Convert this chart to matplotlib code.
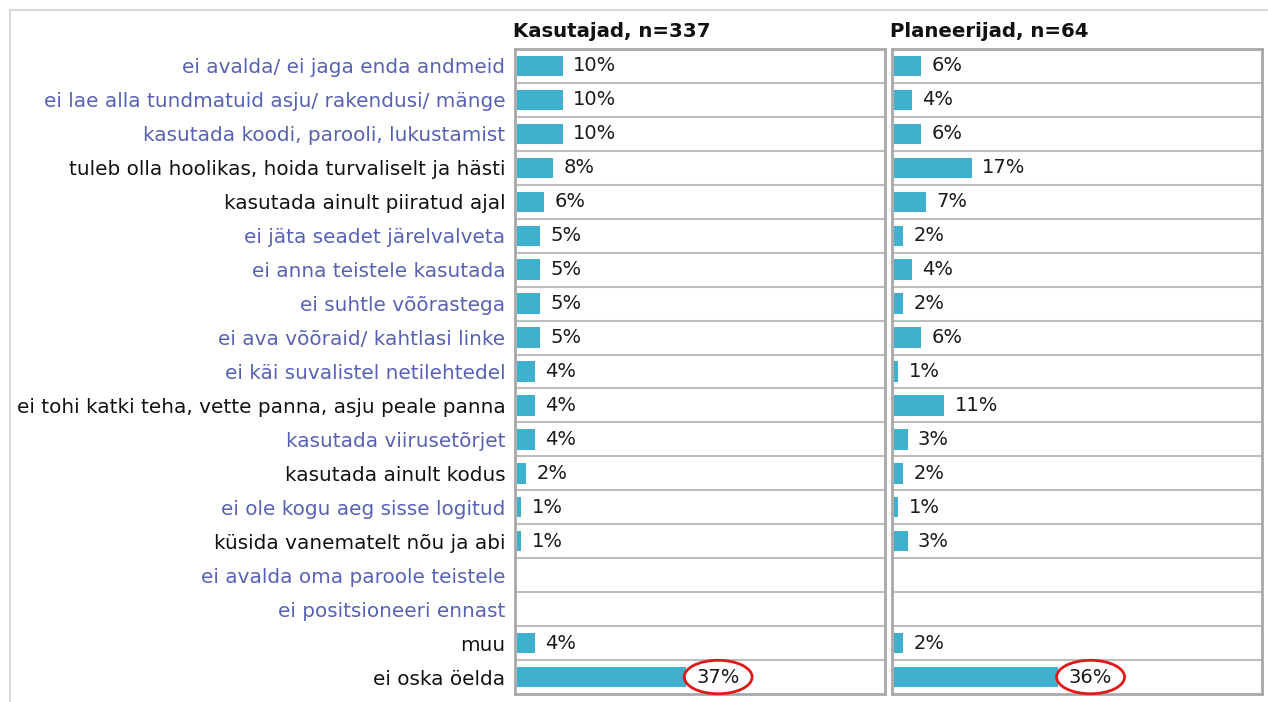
import matplotlib
matplotlib.use("Agg")
import matplotlib.pyplot as plt
from matplotlib.lines import Line2D

categories = [
    "ei avalda/ ei jaga enda andmeid",
    "ei lae alla tundmatuid asju/ rakendusi/ mänge",
    "kasutada koodi, parooli, lukustamist",
    "tuleb olla hoolikas, hoida turvaliselt ja hästi",
    "kasutada ainult piiratud ajal",
    "ei jäta seadet järelvalveta",
    "ei anna teistele kasutada",
    "ei suhtle võõrastega",
    "ei ava võõraid/ kahtlasi linke",
    "ei käi suvalistel netilehtedel",
    "ei tohi katki teha, vette panna, asju peale panna",
    "kasutada viirusetõrjet",
    "kasutada ainult kodus",
    "ei ole kogu aeg sisse logitud",
    "küsida vanematelt nõu ja abi",
    "ei avalda oma paroole teistele",
    "ei positsioneeri ennast",
    "muu",
    "ei oska öelda",
]
# True = blue label, False = black label
blue_label = [True, True, True, False, False, True, True, True, True, True,
              False, True, False, True, False, True, True, False, False]

kasutajad = [10, 10, 10, 8, 6, 5, 5, 5, 5, 4, 4, 4, 2, 1, 1, None, None, 4, 37]
planeerijad = [6, 4, 6, 17, 7, 2, 4, 2, 6, 1, 11, 3, 2, 1, 3, None, None, 2, 36]
titles = ["Kasutajad, n=337", "Planeerijad, n=64"]
highlight = "ei oska öelda"

W, H = 1268, 702
fig = plt.figure(figsize=(W / 100, H / 100), dpi=100)
fig.patch.set_facecolor("white")

# outer frame (only top and left edges visible)
fig.add_artist(Line2D([10 / W, 10 / W], [0, 1 - 10 / H], color="#d9d9d9", lw=1.5))
fig.add_artist(Line2D([10 / W, 1], [1 - 10 / H, 1 - 10 / H], color="#d9d9d9", lw=1.5))

bar_color = "#3fb0cd"
grid_color = "#bdbdbd"
blue = "#5661b5"
fs_cat = 14.4
fs_val = 14

panels = [(515, kasutajad), (892, planeerijad)]
top, bottom = 49, 694
n = len(categories)

for k, (x0, vals) in enumerate(panels):
    ax = fig.add_axes([x0 / W, (H - bottom) / H, 370 / W, (bottom - top) / H])
    ax.set_xlim(-0.4, 80.5)
    ax.set_ylim(n - 0.5, -0.5)
    for s in ax.spines.values():
        s.set_color("#a8a8a8")
        s.set_linewidth(2)
    for i in range(n - 1):
        ax.axhline(i + 0.5, color=grid_color, lw=1.5)
    for i, v in enumerate(vals):
        if v is None:
            continue
        ax.barh(i, v, height=0.6, color=bar_color, left=0)
        kw = {}
        if categories[i] == highlight:
            kw["bbox"] = dict(boxstyle="ellipse,pad=0.12", fc="none", ec="#e01818", lw=2)
        ax.annotate(f"{v}%", (v, i), xytext=(7.5, 0), textcoords="offset points",
                    va="center", ha="left", fontsize=fs_val, color="#1a1a1a", **kw)
    ax.set_xticks([])
    ax.set_yticks(range(n))
    if k == 0:
        ax.set_yticklabels(categories, fontsize=fs_cat)
        for lab, b in zip(ax.get_yticklabels(), blue_label):
            lab.set_color(blue if b else "#111111")
        ax.tick_params(axis="y", length=0, pad=7)
    else:
        ax.set_yticklabels([])
        ax.tick_params(axis="y", length=0)
    ax.text(-0.005, 1.012, titles[k], transform=ax.transAxes, ha="left", va="bottom",
            fontsize=14.2, fontweight="bold", color="#111111")

fig.savefig("out.png", dpi=100, facecolor="white")
